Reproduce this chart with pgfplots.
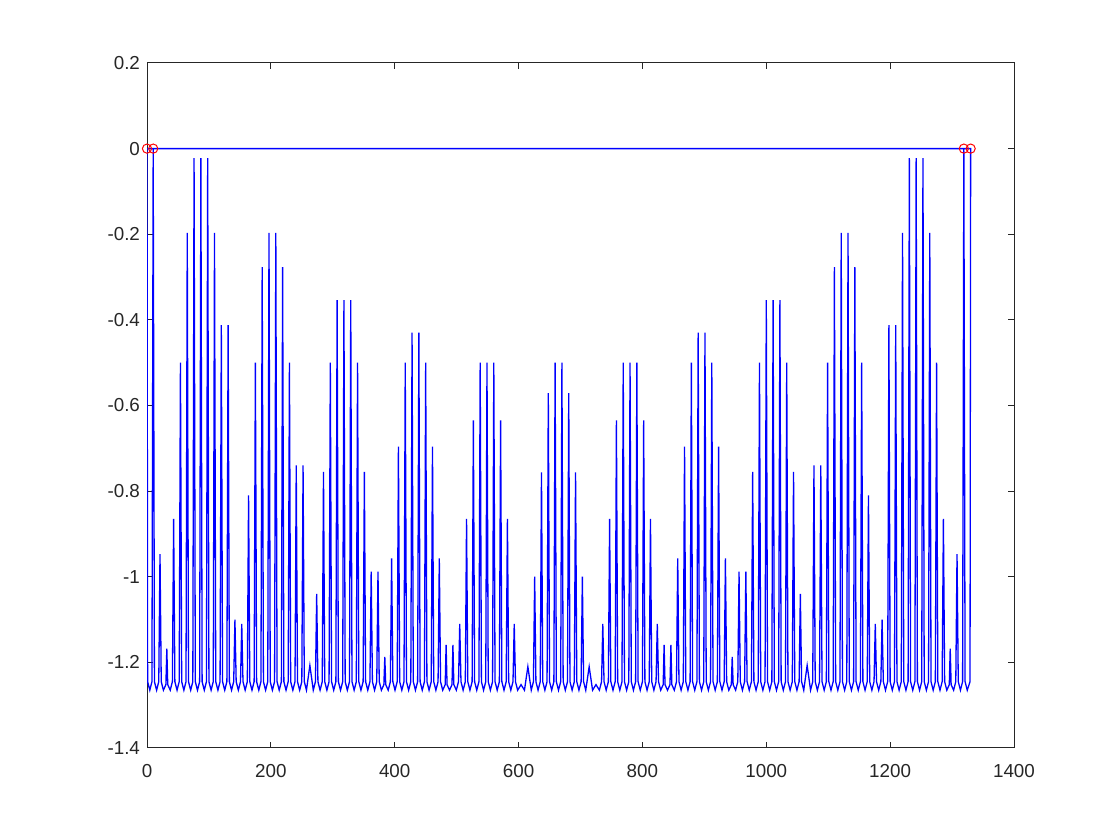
\documentclass[border=0pt]{standalone}
\usepackage{fontspec}
\setmainfont{Liberation Sans}
\usepackage{pgfplots}
\pgfplotsset{compat=1.18}
\definecolor{axgray}{rgb}{0.15,0.15,0.15}
\begin{document}
\begin{tikzpicture}
\path[use as bounding box] (0,0) rectangle (560pt,420pt);
\begin{axis}[
    at={(73.5pt,46pt)}, anchor=south west,
    scale only axis,
    width=433.5pt, height=342.5pt,
    xmin=0, xmax=1400,
    ymin=-1.4, ymax=0.2,
    xtick={0,200,...,1400},
    ytick={-1.4,-1.2,...,0.2},
    tick align=inside,
    major tick length=3pt,
    axis line style={axgray, line width=0.5pt},
    every tick/.style={axgray, line width=0.5pt},
    tick label style={font=\fontsize{9.4}{11}\selectfont, text=axgray},
    xticklabel style={yshift=-4.5pt},
    /pgf/number format/assume math mode=true,
    /pgf/number format/1000 sep={},
    yticklabel style={/pgf/number format/fixed, /pgf/number format/precision=1},
    clip=true,
]
% spectrum-like curve: spikes, then back along y=0
\addplot[blue, line width=0.65pt, mark=none] coordinates {
(0,0) (1,-1.245) (4.5,-1.265)
(8,-1.245) (10,0) (12,-1.245) (15.5,-1.265)
(19,-1.245) (21,-0.947) (23,-1.245) (26.5,-1.265)
(30.5,-1.252) (32,-1.168) (33.5,-1.252) (37.5,-1.265)
(41,-1.245) (43,-0.865) (45,-1.245) (48.5,-1.265)
(52,-1.245) (54,-0.5) (56,-1.245) (59.5,-1.265)
(63,-1.245) (65,-0.197) (67,-1.245) (70.5,-1.265)
(74,-1.245) (76,-0.022) (78,-1.245) (81.5,-1.265)
(85,-1.245) (87,-0.022) (89,-1.245) (92.5,-1.265)
(96,-1.245) (98,-0.022) (100,-1.245) (103.5,-1.265)
(107,-1.245) (109,-0.197) (111,-1.245) (114.5,-1.265)
(118,-1.245) (120,-0.412) (122,-1.245) (125.5,-1.265)
(129,-1.245) (131,-0.412) (133,-1.245) (136.5,-1.265)
(140,-1.245) (142,-1.10) (144,-1.245) (147.5,-1.265)
(151,-1.245) (153,-1.11) (155,-1.245) (158.5,-1.265)
(162,-1.245) (164,-0.81) (166,-1.245) (169.5,-1.265)
(173,-1.245) (175,-0.5) (177,-1.245) (180.5,-1.265)
(184,-1.245) (186,-0.277) (188,-1.245) (191.5,-1.265)
(195,-1.245) (197,-0.197) (199,-1.245) (202.5,-1.265)
(206,-1.245) (208,-0.197) (210,-1.245) (213.5,-1.265)
(217,-1.245) (219,-0.277) (221,-1.245) (224.5,-1.265)
(228,-1.245) (230,-0.5) (232,-1.245) (235.5,-1.265)
(239,-1.245) (241,-0.74) (243,-1.245) (246.5,-1.265)
(250,-1.245) (252,-0.74) (254,-1.245) (257.5,-1.265)
(263,-1.207) (268.5,-1.265)
(272,-1.245) (274,-1.04) (276,-1.245) (279.5,-1.265)
(283,-1.245) (285,-0.755) (287,-1.245) (290.5,-1.265)
(294,-1.245) (296,-0.5) (298,-1.245) (301.5,-1.265)
(305,-1.245) (307,-0.354) (309,-1.245) (312.5,-1.265)
(316,-1.245) (318,-0.354) (320,-1.245) (323.5,-1.265)
(327,-1.245) (329,-0.354) (331,-1.245) (334.5,-1.265)
(338,-1.245) (340,-0.5) (342,-1.245) (345.5,-1.265)
(349,-1.245) (351,-0.755) (353,-1.245) (356.5,-1.265)
(360,-1.245) (362,-0.988) (364,-1.245) (367.5,-1.265)
(371,-1.245) (373,-0.988) (375,-1.245) (378.5,-1.265)
(382.5,-1.252) (384,-1.187) (385.5,-1.252) (389.5,-1.265)
(393,-1.245) (395,-0.957) (397,-1.245) (400.5,-1.265)
(404,-1.245) (406,-0.696) (408,-1.245) (411.5,-1.265)
(415,-1.245) (417,-0.5) (419,-1.245) (422.5,-1.265)
(426,-1.245) (428,-0.43) (430,-1.245) (433.5,-1.265)
(437,-1.245) (439,-0.43) (441,-1.245) (444.5,-1.265)
(448,-1.245) (450,-0.5) (452,-1.245) (455.5,-1.265)
(459,-1.245) (461,-0.696) (463,-1.245) (466.5,-1.265)
(470,-1.245) (472,-0.957) (474,-1.245) (477.5,-1.265)
(481.5,-1.252) (483,-1.159) (484.5,-1.252) (488.5,-1.265)
(492.5,-1.252) (494,-1.159) (495.5,-1.252) (499.5,-1.265)
(503,-1.245) (505,-1.11) (507,-1.245) (510.5,-1.265)
(514,-1.245) (516,-0.865) (518,-1.245) (521.5,-1.265)
(525,-1.245) (527,-0.635) (529,-1.245) (532.5,-1.265)
(536,-1.245) (538,-0.5) (540,-1.245) (543.5,-1.265)
(547,-1.245) (549,-0.5) (551,-1.245) (554.5,-1.265)
(558,-1.245) (560,-0.5) (562,-1.245) (565.5,-1.265)
(569,-1.245) (571,-0.635) (573,-1.245) (576.5,-1.265)
(580,-1.245) (582,-0.865) (584,-1.245) (587.5,-1.265)
(591,-1.245) (593,-1.11) (595,-1.245) (598.5,-1.265)
(604,-1.252) (609.5,-1.265)
(615,-1.21) (620.5,-1.265)
(624,-1.245) (626,-1.0) (628,-1.245) (631.5,-1.265)
(635,-1.245) (637,-0.756) (639,-1.245) (642.5,-1.265)
(646,-1.245) (648,-0.571) (650,-1.245) (653.5,-1.265)
(657,-1.245) (659,-0.5) (661,-1.245) (664.5,-1.265)
(668,-1.245) (670,-0.5) (672,-1.245) (675.5,-1.265)
(679,-1.245) (681,-0.571) (683,-1.245) (686.5,-1.265)
(690,-1.245) (692,-0.756) (694,-1.245) (697.5,-1.265)
(701,-1.245) (703,-1.0) (705,-1.245) (708.5,-1.265)
(714,-1.21) (719.5,-1.265)
(725,-1.252) (730.5,-1.265)
(734,-1.245) (736,-1.11) (738,-1.245) (741.5,-1.265)
(745,-1.245) (747,-0.865) (749,-1.245) (752.5,-1.265)
(756,-1.245) (758,-0.635) (760,-1.245) (763.5,-1.265)
(767,-1.245) (769,-0.5) (771,-1.245) (774.5,-1.265)
(778,-1.245) (780,-0.5) (782,-1.245) (785.5,-1.265)
(789,-1.245) (791,-0.5) (793,-1.245) (796.5,-1.265)
(800,-1.245) (802,-0.635) (804,-1.245) (807.5,-1.265)
(811,-1.245) (813,-0.865) (815,-1.245) (818.5,-1.265)
(822,-1.245) (824,-1.11) (826,-1.245) (829.5,-1.265)
(833.5,-1.252) (835,-1.159) (836.5,-1.252) (840.5,-1.265)
(844.5,-1.252) (846,-1.159) (847.5,-1.252) (851.5,-1.265)
(855,-1.245) (857,-0.957) (859,-1.245) (862.5,-1.265)
(866,-1.245) (868,-0.696) (870,-1.245) (873.5,-1.265)
(877,-1.245) (879,-0.5) (881,-1.245) (884.5,-1.265)
(888,-1.245) (890,-0.43) (892,-1.245) (895.5,-1.265)
(899,-1.245) (901,-0.43) (903,-1.245) (906.5,-1.265)
(910,-1.245) (912,-0.5) (914,-1.245) (917.5,-1.265)
(921,-1.245) (923,-0.696) (925,-1.245) (928.5,-1.265)
(932,-1.245) (934,-0.957) (936,-1.245) (939.5,-1.265)
(943.5,-1.252) (945,-1.187) (946.5,-1.252) (950.5,-1.265)
(954,-1.245) (956,-0.988) (958,-1.245) (961.5,-1.265)
(965,-1.245) (967,-0.988) (969,-1.245) (972.5,-1.265)
(976,-1.245) (978,-0.755) (980,-1.245) (983.5,-1.265)
(987,-1.245) (989,-0.5) (991,-1.245) (994.5,-1.265)
(998,-1.245) (1000,-0.354) (1002,-1.245) (1005.5,-1.265)
(1009,-1.245) (1011,-0.354) (1013,-1.245) (1016.5,-1.265)
(1020,-1.245) (1022,-0.354) (1024,-1.245) (1027.5,-1.265)
(1031,-1.245) (1033,-0.5) (1035,-1.245) (1038.5,-1.265)
(1042,-1.245) (1044,-0.755) (1046,-1.245) (1049.5,-1.265)
(1053,-1.245) (1055,-1.04) (1057,-1.245) (1060.5,-1.265)
(1066,-1.207) (1071.5,-1.265)
(1075,-1.245) (1077,-0.74) (1079,-1.245) (1082.5,-1.265)
(1086,-1.245) (1088,-0.74) (1090,-1.245) (1093.5,-1.265)
(1097,-1.245) (1099,-0.5) (1101,-1.245) (1104.5,-1.265)
(1108,-1.245) (1110,-0.277) (1112,-1.245) (1115.5,-1.265)
(1119,-1.245) (1121,-0.197) (1123,-1.245) (1126.5,-1.265)
(1130,-1.245) (1132,-0.197) (1134,-1.245) (1137.5,-1.265)
(1141,-1.245) (1143,-0.277) (1145,-1.245) (1148.5,-1.265)
(1152,-1.245) (1154,-0.5) (1156,-1.245) (1159.5,-1.265)
(1163,-1.245) (1165,-0.81) (1167,-1.245) (1170.5,-1.265)
(1174,-1.245) (1176,-1.11) (1178,-1.245) (1181.5,-1.265)
(1185,-1.245) (1187,-1.1) (1189,-1.245) (1192.5,-1.265)
(1196,-1.245) (1198,-0.412) (1200,-1.245) (1203.5,-1.265)
(1207,-1.245) (1209,-0.412) (1211,-1.245) (1214.5,-1.265)
(1218,-1.245) (1220,-0.197) (1222,-1.245) (1225.5,-1.265)
(1229,-1.245) (1231,-0.022) (1233,-1.245) (1236.5,-1.265)
(1240,-1.245) (1242,-0.022) (1244,-1.245) (1247.5,-1.265)
(1251,-1.245) (1253,-0.022) (1255,-1.245) (1258.5,-1.265)
(1262,-1.245) (1264,-0.197) (1266,-1.245) (1269.5,-1.265)
(1273,-1.245) (1275,-0.5) (1277,-1.245) (1280.5,-1.265)
(1284,-1.245) (1286,-0.865) (1288,-1.245) (1291.5,-1.265)
(1295.5,-1.252) (1297,-1.168) (1298.5,-1.252) (1302.5,-1.265)
(1306,-1.245) (1308,-0.947) (1310,-1.245) (1313.5,-1.265)
(1317,-1.245) (1319,0) (1321,-1.245) (1324.5,-1.265)
(1329,-1.245) (1330,0)
(0,0)
};
% peaks that reach zero
\addplot[only marks, mark=o, red, mark size=2.3pt, line width=0.5pt] coordinates {
(0,0) (10,0) (1319,0) (1330,0)
};
\end{axis}
\end{tikzpicture}
\end{document}
